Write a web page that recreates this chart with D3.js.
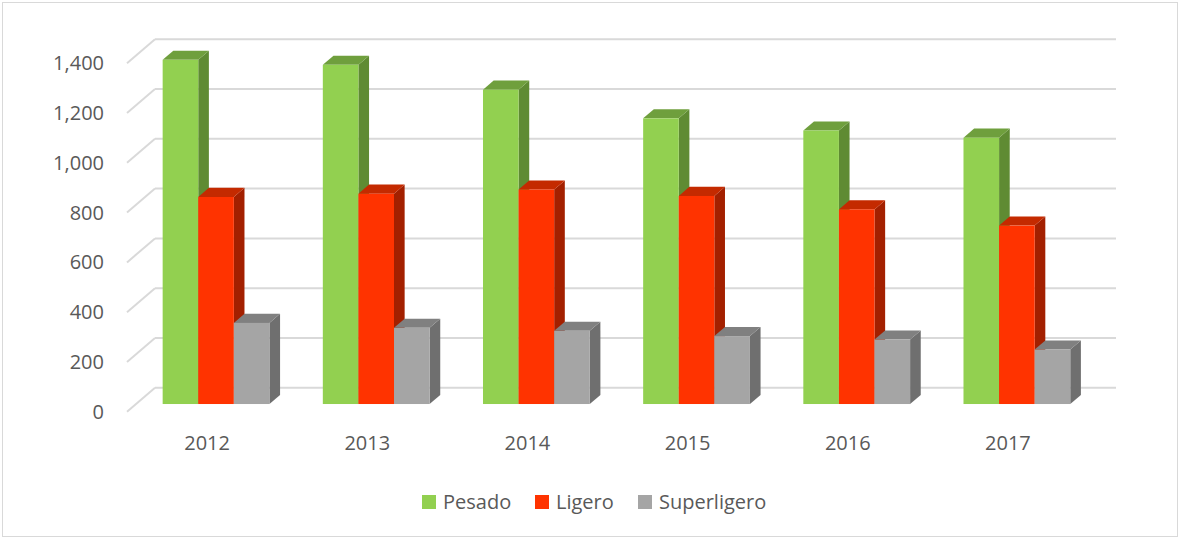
<!DOCTYPE html>
<html>
<head>
<meta charset="utf-8">
<script src="https://cdn.jsdelivr.net/npm/d3@7"></script>
<style>
  body { margin: 0; background: #fff; }
  svg { display: block; }
</style>
</head>
<body>
<svg></svg>
<script>
// data
var years = ["2012", "2013", "2014", "2015", "2016", "2017"];
var seriesNames = ["Pesado", "Ligero", "Superligero"];
var pesado = [1383, 1363, 1263, 1148, 1099, 1070];
var ligero = [832, 845, 862, 836, 782, 717];
var superligero = [326, 306, 294, 273, 259, 219];
var yTicks = [0, 200, 400, 600, 800, 1000, 1200, 1400];

var colors = {
  Pesado: {front: "#92d050", side: "#5f8b33", top: "#6f9f3d"},
  Ligero: {front: "#ff3300", side: "#a32000", top: "#c42a00"},
  Superligero: {front: "#a5a5a5", side: "#6f6f6f", top: "#808080"}
};

var width = 1180;
var height = 539;

// oblique 3d: front plane + depth vector
var x0 = 127;
var plotW = 961;
var ddx = 28, ddy = -24;
var barFront = 0.32;
var barDepth = 0.38;

var svg = d3.select("svg")
  .attr("width", width)
  .attr("height", height)
  .style("font-family", "'Open Sans', 'Noto Sans', sans-serif");

svg.append("rect")
  .attr("x", 2.5).attr("y", 2.5)
  .attr("width", width - 5).attr("height", height - 5)
  .attr("fill", "#fff")
  .attr("stroke", "#d9d9d9");

var x = d3.scaleBand()
  .domain(years)
  .range([x0, x0 + plotW])
  .paddingInner(1/3)
  .paddingOuter(1/6);

var xs = d3.scaleBand()
  .domain(seriesNames)
  .range([0, x.bandwidth()]);

var y = d3.scaleLinear()
  .domain([0, 1400])
  .range([411.7, 63.3]);

// gridlines: side wall diagonal + back wall
var grid = svg.append("g").attr("stroke", "#d9d9d9").attr("stroke-width", 2).attr("fill", "none");
grid.selectAll("line.side")
  .data(yTicks)
  .enter()
  .append("line")
  .attr("class", "side")
  .attr("x1", x0).attr("y1", function(d){ return y(d); })
  .attr("x2", x0 + ddx).attr("y2", function(d){ return y(d) + ddy; });
grid.selectAll("line.back")
  .data(yTicks)
  .enter()
  .append("line")
  .attr("class", "back")
  .attr("x1", x0 + ddx).attr("y1", function(d){ return y(d) + ddy; })
  .attr("x2", x0 + ddx + plotW).attr("y2", function(d){ return y(d) + ddy; });

// y axis labels
var yAxis = d3.axisLeft(y)
  .tickValues(yTicks)
  .tickFormat(d3.format(","))
  .tickSize(0)
  .tickPadding(23);
var yg = svg.append("g")
  .attr("transform", "translate(" + x0 + ",0)")
  .call(yAxis);
yg.select(".domain").remove();
yg.selectAll("text")
  .attr("fill", "#595959")
  .attr("font-size", "20px")
  .attr("font-family", "'Open Sans', 'Noto Sans', sans-serif");

// bars
var values = {Pesado: pesado, Ligero: ligero, Superligero: superligero};
var bars = [];
years.forEach(function(yr, i) {
  seriesNames.forEach(function(s) {
    bars.push({year: yr, series: s, value: values[s][i]});
  });
});

var ox = barFront * ddx, oy = barFront * ddy;
var bx = barDepth * ddx, by = barDepth * ddy;

function pts(p) {
  return p.map(function(q){ return q[0] + "," + q[1]; }).join(" ");
}

var barG = svg.append("g").selectAll("g")
  .data(bars)
  .enter()
  .append("g");

barG.each(function(d) {
  var g = d3.select(this);
  var left = x(d.year) + xs(d.series) + ox;
  var right = left + xs.bandwidth();
  var bottom = y(0) + oy;
  var top = y(d.value) + oy;
  var c = colors[d.series];
  g.append("polygon")
    .attr("points", pts([[right, top], [right + bx, top + by], [right + bx, bottom + by], [right, bottom]]))
    .attr("fill", c.side);
  g.append("polygon")
    .attr("points", pts([[left, top], [left + bx, top + by], [right + bx, top + by], [right, top]]))
    .attr("fill", c.top);
  g.append("rect")
    .attr("x", left)
    .attr("y", top)
    .attr("width", right - left)
    .attr("height", bottom - top)
    .attr("fill", c.front);
});

// x labels
svg.append("g").selectAll("text")
  .data(years)
  .enter()
  .append("text")
  .text(function(d){ return d; })
  .attr("x", function(d){ return x(d) + x.bandwidth() / 2; })
  .attr("y", 450)
  .attr("text-anchor", "middle")
  .attr("font-size", "20px")
  .attr("fill", "#595959");

// legend
var legendX = [422, 535, 638];
var legend = svg.append("g").attr("class", "legend");
legend.selectAll("rect")
  .data(seriesNames)
  .enter()
  .append("rect")
  .attr("x", function(d, i){ return legendX[i]; })
  .attr("y", 495)
  .attr("width", 14)
  .attr("height", 14)
  .attr("fill", function(d){ return colors[d].front; });
legend.selectAll("text")
  .data(seriesNames)
  .enter()
  .append("text")
  .text(function(d){ return d; })
  .attr("x", function(d, i){ return legendX[i] + 21; })
  .attr("y", 509)
  .attr("font-size", "20px")
  .attr("fill", "#595959");
</script>
</body>
</html>
